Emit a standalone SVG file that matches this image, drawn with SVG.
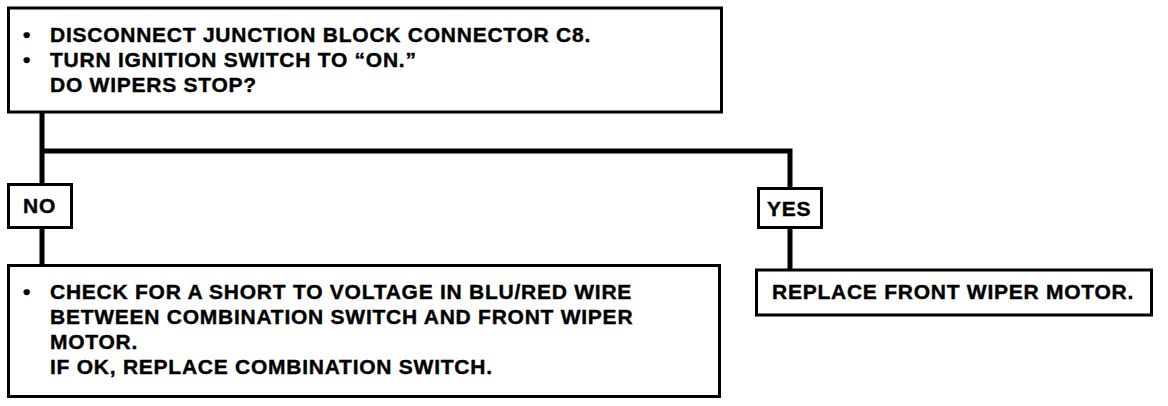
<svg xmlns="http://www.w3.org/2000/svg" width="1168" height="406" viewBox="0 0 1168 406">
<style>
.box{fill:#fff;stroke:#000;stroke-width:3}
.ln{fill:none;stroke:#000;stroke-width:5}
text{font-family:"Liberation Sans",Arial,Helvetica,sans-serif;font-weight:bold;font-size:21px;letter-spacing:0.75px;fill:#000;stroke:#000;stroke-width:0.4px}
</style>
<rect width="1168" height="406" fill="#fff"/>
<g id="connectors">
<path class="ln" d="M42 112 V266"/>
<path class="ln" d="M42 151 H790 V188"/>
<path class="ln" d="M790 228 V270"/>
</g>
<g id="start">
<rect class="box" x="8.5" y="8" width="713" height="104"/>
<text x="23" y="42">•</text>
<text x="50" y="42">DISCONNECT JUNCTION BLOCK CONNECTOR C8.</text>
<text x="23" y="67">•</text>
<text x="50" y="67">TURN IGNITION SWITCH TO “ON.”</text>
<text x="50" y="92">DO WIPERS STOP?</text>
</g>
<g id="no">
<rect class="box" x="8.5" y="184.5" width="63" height="43"/>
<text x="23" y="213">NO</text>
</g>
<g id="yes">
<rect class="box" x="758.5" y="188.5" width="63" height="39"/>
<text x="767" y="216">YES</text>
</g>
<g id="check">
<rect class="box" x="8.5" y="265.5" width="711" height="131"/>
<text x="23" y="299">•</text>
<text x="50" y="299">CHECK FOR A SHORT TO VOLTAGE IN BLU/RED WIRE</text>
<text x="50" y="324">BETWEEN COMBINATION SWITCH AND FRONT WIPER</text>
<text x="50" y="349">MOTOR.</text>
<text x="50" y="374">IF OK, REPLACE COMBINATION SWITCH.</text>
</g>
<g id="replace">
<rect class="box" x="756.5" y="270" width="395" height="45"/>
<text x="772" y="299">REPLACE FRONT WIPER MOTOR.</text>
</g>
</svg>
